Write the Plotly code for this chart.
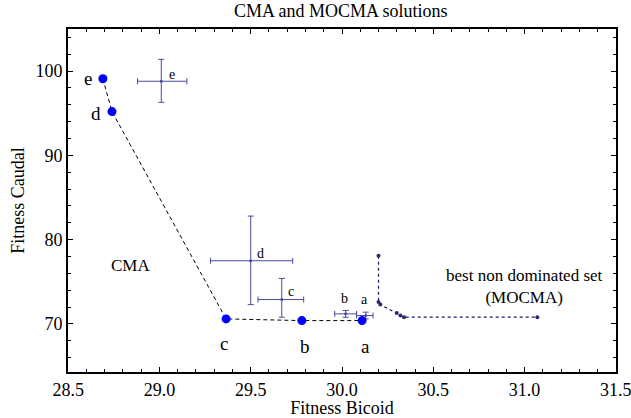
import plotly.graph_objects as go

# CMA solutions
cma_labels = ["e", "d", "c", "b", "a"]
cma_x = [28.69, 28.74, 29.365, 29.78, 30.11]
cma_y = [99.1, 95.2, 70.6, 70.4, 70.4]

# MOCMA means with error bars
err_labels = ["e", "d", "c", "b", "a"]
err_x = [29.01, 29.50, 29.67, 30.02, 30.13]
err_y = [98.8, 77.5, 72.9, 71.2, 71.0]
err_x_lo = [28.88, 29.28, 29.54, 29.96, 30.08]
err_x_hi = [29.15, 29.73, 29.79, 30.08, 30.17]
err_y_lo = [96.3, 72.3, 70.8, 70.8, 70.6]
err_y_hi = [101.4, 82.8, 75.4, 71.6, 71.4]

# best non dominated set (MOCMA)
nd_x = [30.20, 30.20, 30.21, 30.30, 30.32, 30.34, 31.07]
nd_y = [78.1, 72.6, 72.3, 71.3, 71.0, 70.8, 70.8]

font_family = "Liberation Serif"
err_color = "#4b4b9e"

fig = go.Figure()

fig.add_trace(go.Scatter(
    x=err_x, y=err_y, mode="markers",
    marker=dict(size=3, color=err_color),
    error_x=dict(type="data", symmetric=False,
                 array=[h - c for h, c in zip(err_x_hi, err_x)],
                 arrayminus=[c - l for l, c in zip(err_x_lo, err_x)],
                 color=err_color, thickness=1, width=3),
    error_y=dict(type="data", symmetric=False,
                 array=[h - c for h, c in zip(err_y_hi, err_y)],
                 arrayminus=[c - l for l, c in zip(err_y_lo, err_y)],
                 color=err_color, thickness=1, width=3),
    showlegend=False,
))

fig.add_trace(go.Scatter(
    x=nd_x, y=nd_y, mode="lines+markers",
    line=dict(color="#1a1a5e", width=1.2, dash="dot"),
    marker=dict(size=4, color="#2a2a70"),
    showlegend=False,
))

fig.add_trace(go.Scatter(
    x=cma_x, y=cma_y, mode="lines+markers",
    line=dict(color="black", width=1, dash="4px,3px"),
    marker=dict(size=9, color="#0000ff"),
    showlegend=False,
))

# error-bar labels
err_shift = [(11, 7), (10, 7), (9, 8), (-1, 15), (-1, 16)]
for lab, x, y, (sx, sy) in zip(err_labels, err_x, err_y, err_shift):
    fig.add_annotation(x=x, y=y, xshift=sx, yshift=sy, text=lab, showarrow=False,
                       font=dict(family=font_family, size=14, color="black"))

# CMA point labels
cma_shift = [(-15, 0), (-16, -2), (-2, -25), (3, -26), (3, -26)]
for lab, x, y, (sx, sy) in zip(cma_labels, cma_x, cma_y, cma_shift):
    fig.add_annotation(x=x, y=y, xshift=sx, yshift=sy, text=lab, showarrow=False,
                       font=dict(family=font_family, size=19, color="black"))

fig.add_annotation(x=28.84, y=76.9, text="CMA", showarrow=False,
                   font=dict(family=font_family, size=17, color="black"))
fig.add_annotation(x=31.0, y=74.5, text="best non dominated set<br>(MOCMA)", showarrow=False,
                   font=dict(family=font_family, size=17, color="black"))

axis_common = dict(
    showgrid=False, zeroline=False, showline=True, linecolor="black", linewidth=2,
    mirror="allticks", ticks="inside", ticklen=5, tickcolor="black", tickwidth=1.2,
    tickfont=dict(family=font_family, size=18, color="black"), automargin=False,
    ticklabeloverflow="allow",
)

fig.update_xaxes(range=[28.499, 31.501], dtick=0.5, tick0=28.5, tickformat=".1f",
                 minor=dict(dtick=0.1, ticks="inside", ticklen=3, tickcolor="black"),
                 title=dict(text="Fitness Bicoid", font=dict(family=font_family, size=18, color="black"), standoff=0),
                 **axis_common)
fig.update_yaxes(range=[64.3, 105], dtick=10,
                 minor=dict(dtick=2, ticks="inside", ticklen=3, tickcolor="black"),
                 title=dict(text="Fitness Caudal", font=dict(family=font_family, size=18, color="black"), standoff=6),
                 **axis_common)

fig.update_layout(
    width=631, height=418,
    margin=dict(l=68, r=15, t=29, b=46),
    paper_bgcolor="white", plot_bgcolor="white",
    title=dict(text="CMA and MOCMA solutions", x=0.54, xanchor="center", y=0.99, yanchor="top",
               font=dict(family=font_family, size=18, color="black")),
)

fig.write_html("out.html", config={"displayModeBar": False},
               post_script="document.body.style.margin='0';document.body.style.overflow='hidden';")
